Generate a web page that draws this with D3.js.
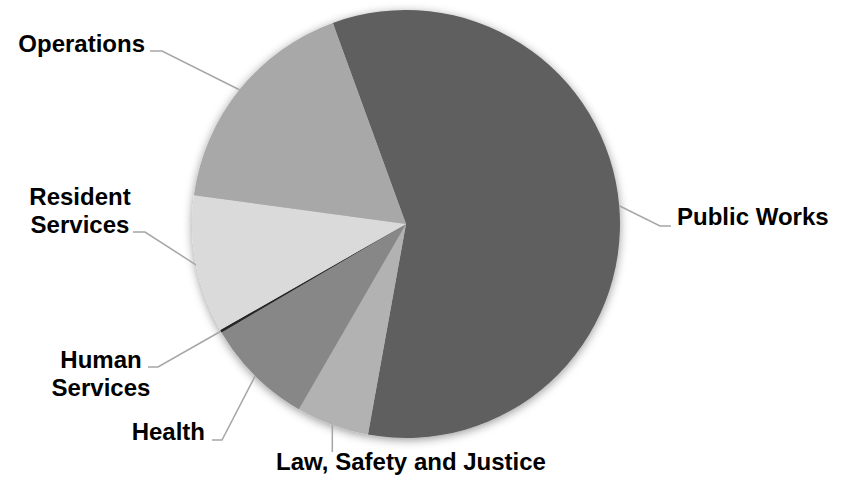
<!DOCTYPE html>
<html>
<head>
<meta charset="utf-8">
<script src="https://cdn.jsdelivr.net/npm/d3@7"></script>
<style>
  html, body { margin: 0; padding: 0; background: #fff; }
  svg { display: block; }
  text { font-family: "Liberation Sans", Arial, sans-serif; font-weight: bold; fill: #000; }
</style>
</head>
<body>
<script>
// Data (share of total, %)
const categories = ["Public Works", "Law, Safety and Justice", "Health", "Human Services", "Resident Services", "Operations"];
const values = [58.4, 5.5, 8.2, 0.2, 10.4, 17.3];
const colors = ["#5f5f5f", "#b2b2b2", "#878787", "#262626", "#dadada", "#a8a8a8"];

// Label layout: lines of text, anchor point, text-anchor, and elbow of the leader line
const labelLayout = {
  "Public Works":            { lines: ["Public Works"], x: 677, y: 225, anchor: "start", elbow: [660, 226], end: [671, 226] },
  "Law, Safety and Justice": { lines: ["Law, Safety and Justice"], x: 411, y: 470, anchor: "middle", elbow: null, end: [332, 452] },
  "Health":                  { lines: ["Health"], x: 205, y: 440, anchor: "end", elbow: [222, 440], end: [212, 440] },
  "Human Services":          { lines: ["Human", "Services"], x: 101, y: 368, anchor: "middle", elbow: [158, 367], end: [148, 367] },
  "Resident Services":       { lines: ["Resident", "Services"], x: 80, y: 205, anchor: "middle", elbow: [145, 232], end: [133, 232] },
  "Operations":              { lines: ["Operations"], x: 145, y: 52, anchor: "end", elbow: [162, 51], end: [150, 51] }
};

const W = 854, H = 478;
const cx = 406, cy = 224, R = 214;

const svg = d3.select("body").append("svg").attr("width", W).attr("height", H);

const defs = svg.append("defs");
const f = defs.append("filter").attr("id", "shadow").attr("x", "-20%").attr("y", "-20%").attr("width", "140%").attr("height", "140%");
f.append("feDropShadow").attr("dx", 0).attr("dy", 2).attr("stdDeviation", 5).attr("flood-color", "#000").attr("flood-opacity", 0.4);

const data = categories.map((c, i) => ({ name: c, value: values[i], color: colors[i] }));

const pie = d3.pie().value(d => d.value).sort(null)
  .startAngle(-20 * Math.PI / 180).endAngle(340 * Math.PI / 180);
const arcs = pie(data);
const arc = d3.arc().innerRadius(0).outerRadius(R);

const g = svg.append("g").attr("transform", `translate(${cx},${cy})`);
const pg = g.append("g").attr("filter", "url(#shadow)");
pg.selectAll("path").data(arcs).join("path")
  .attr("d", arc)
  .attr("fill", d => d.data.color);

// Leader lines
const lg = svg.append("g");
arcs.forEach(a => {
  const L = labelLayout[a.data.name];
  const mid = (a.startAngle + a.endAngle) / 2;
  const p0 = [cx + R * Math.sin(mid), cy - R * Math.cos(mid)];
  const pts = [p0];
  if (L.elbow) pts.push(L.elbow);
  if (L.elbow) pts.push(L.end); else pts.push([p0[0], L.end[1]]);
  lg.append("path")
    .attr("d", d3.line()(pts))
    .attr("fill", "none")
    .attr("stroke", "#a6a6a6")
    .attr("stroke-width", 1.5);
});

// Labels
const tg = svg.append("g");
arcs.forEach(a => {
  const L = labelLayout[a.data.name];
  const t = tg.append("text")
    .attr("text-anchor", L.anchor)
    .attr("font-size", 24);
  L.lines.forEach((ln, i) => {
    t.append("tspan").attr("x", L.x).attr("y", L.y + i * 28).text(ln);
  });
});
</script>
</body>
</html>
